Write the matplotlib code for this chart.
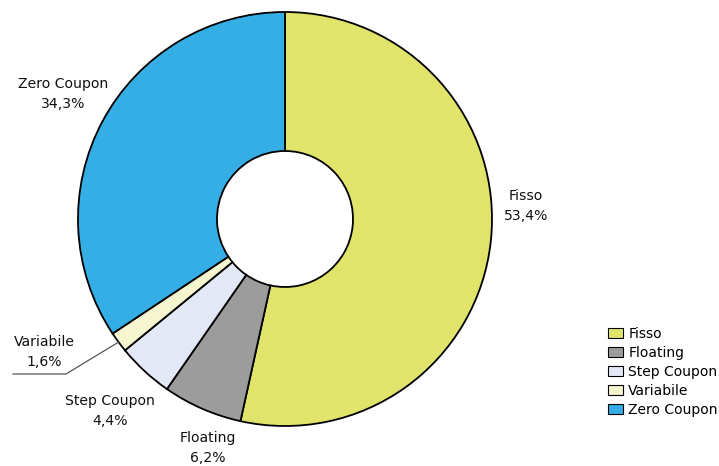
import matplotlib
matplotlib.use("Agg")
import matplotlib.pyplot as plt
import numpy as np

# bond structure breakdown
categories = ["Fisso", "Floating", "Step Coupon", "Variabile", "Zero Coupon"]
shares = [53.4, 6.2, 4.4, 1.6, 34.3]
colors = ["#E0E46A", "#9C9C9C", "#E2E8F5", "#F5F6CF", "#34AEE5"]

W, H = 719, 466
plt.rcParams["font.family"] = ["DejaVu Sans"]

fig = plt.figure(figsize=(W / 100, H / 100), dpi=100)
ax = fig.add_axes([0, 0, 1, 1])

cx, cy, R, r_in = 285, H - 219, 207, 68
wedges, _ = ax.pie(shares, colors=colors, startangle=90, counterclock=False,
                   radius=R, center=(cx, cy),
                   wedgeprops=dict(width=R - r_in, edgecolor="black", linewidth=1.3))
ax.set_xlim(0, W)
ax.set_ylim(0, H)
ax.set_aspect("equal")
ax.axis("off")

# label anchor points (pixel coords, y measured from top)
label_pos = [(526, 206), (208, 448), (110, 411), (44, 352), (63, 94)]
for name, val, (lx, ly) in zip(categories, shares, label_pos):
    txt = f"{name}\n{val:.1f}%".replace(".", ",")
    ax.text(lx, H - ly, txt, ha="center", va="center", fontsize=10.1,
            color="#111111", linespacing=1.6)

# leader line for the thin "Variabile" slice
w = wedges[3]
mid = np.deg2rad((w.theta1 + w.theta2) / 2)
px, py = cx + R * np.cos(mid), cy + R * np.sin(mid)
ax.plot([px, 66, 13], [py, H - 374, H - 374], color="#555555", lw=0.9)

leg = fig.legend(wedges, categories, loc="upper left",
                 bbox_to_anchor=(608 / W, 1 - 327 / H), frameon=False,
                 fontsize=10, handlelength=1.05, handleheight=0.7,
                 handletextpad=0.4, labelspacing=0.36, borderpad=0,
                 borderaxespad=0)
for h in leg.legend_handles:
    h.set_linewidth(0.8)

fig.savefig("out.png", dpi=100)
